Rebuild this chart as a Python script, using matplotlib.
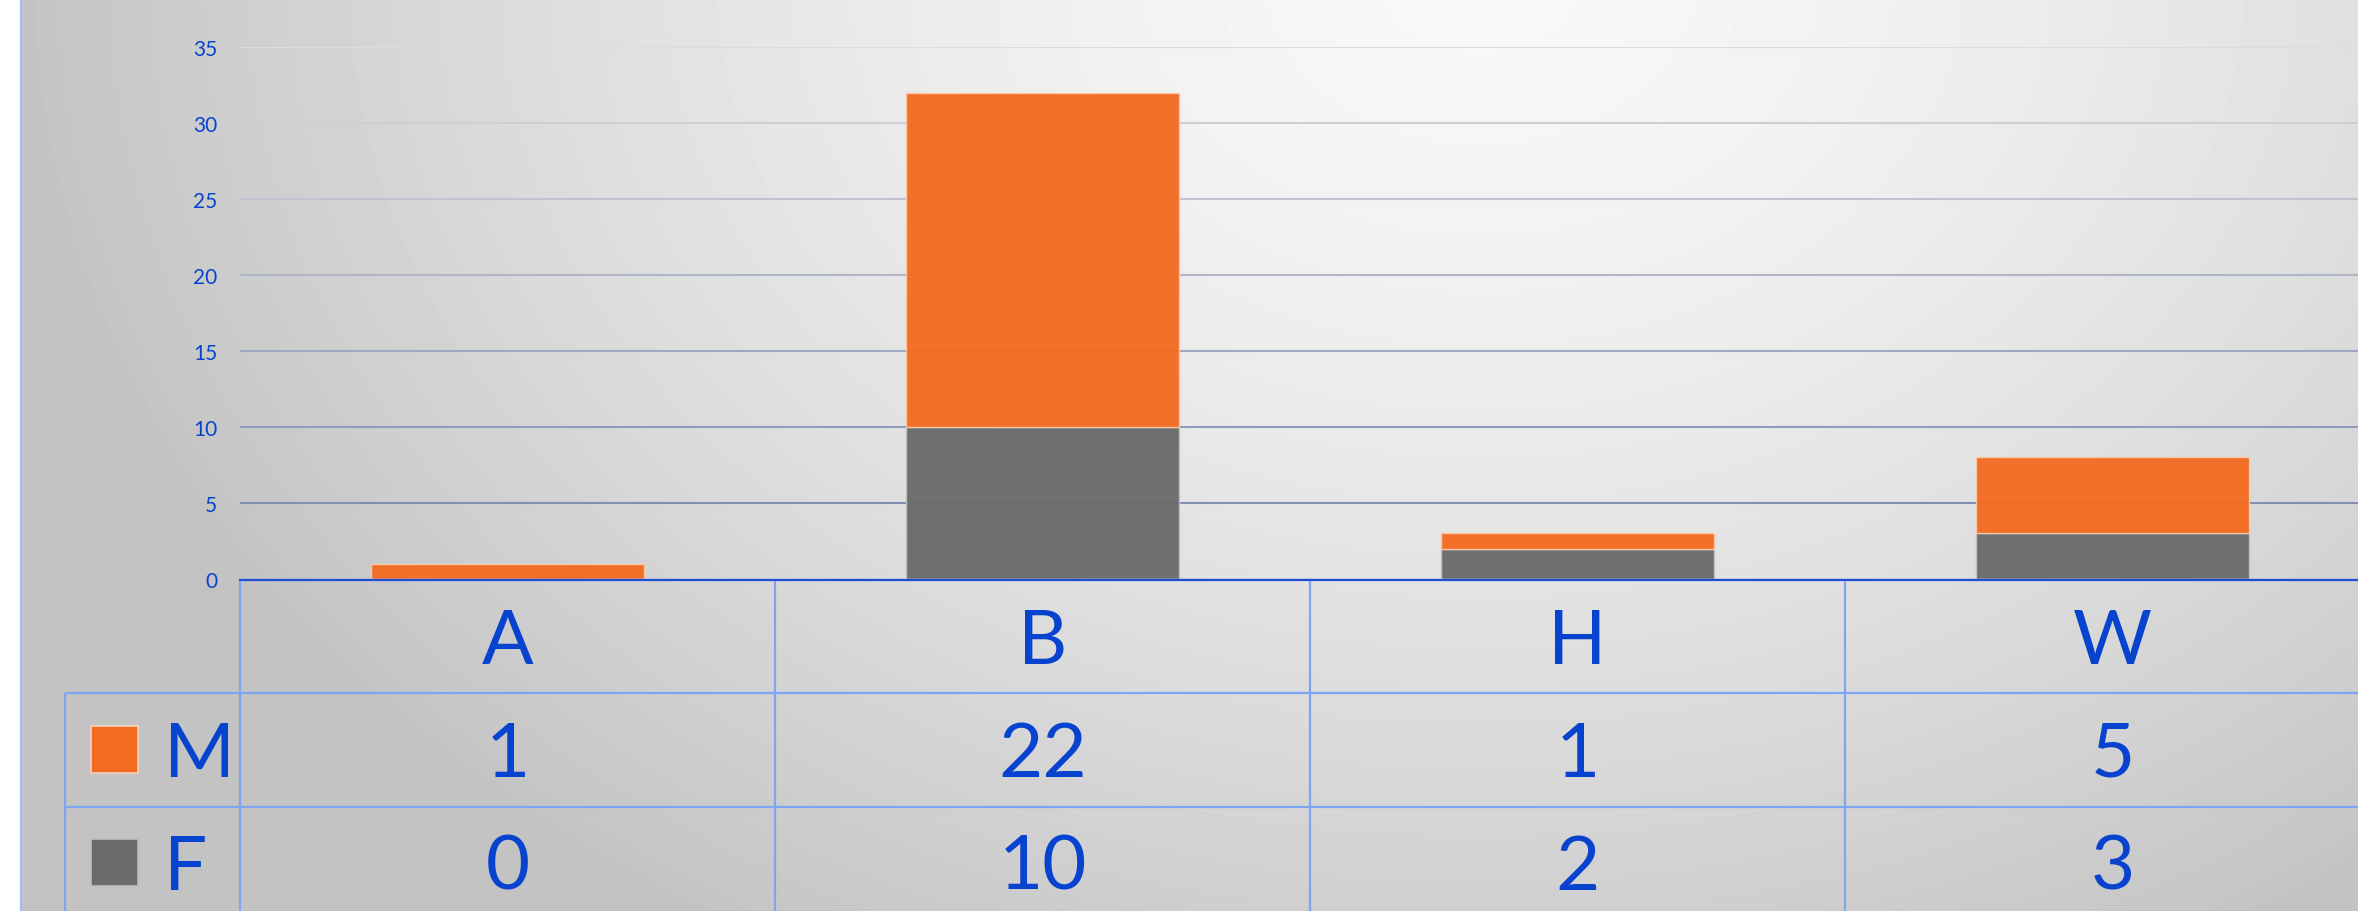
import numpy as np
import matplotlib
matplotlib.use("Agg")
import matplotlib.pyplot as plt
from matplotlib.patches import Rectangle
from matplotlib.transforms import blended_transform_factory
from matplotlib.colors import LinearSegmentedColormap

# ---- data ----
categories = ["A", "B", "H", "W"]
series_names = ["M", "F"]
male = [1, 22, 1, 5]
female = [0, 10, 2, 3]
yticks = [0, 5, 10, 15, 20, 25, 30, 35]

# ---- style ----
ORANGE = "#f36b21"
GREY = "#6b6b6b"
TEXT = "#0843cf"
TABLE_LINE = "#80a4f4"
FONT = "Lato"

W, H = 2358, 912
fig = plt.figure(figsize=(W / 100, H / 100), dpi=100)

# background: soft radial gradient, light near the top centre
bg = fig.add_axes([0, 0, 1, 1], zorder=0)
yy, xx = np.mgrid[0:H, 0:W]
r = np.sqrt(((xx - 1480) / 1450.0) ** 2 + ((yy + 20) / 1100.0) ** 2)
r = np.clip(r, 0, 1)
val = (248 - 52 * r ** 1.5) / 255.0
bg.imshow(val, cmap="gray", vmin=0, vmax=1, extent=[0, W, H, 0], aspect="auto",
          interpolation="bilinear")
bg.add_patch(Rectangle((0, 0), 20, H, color="white", zorder=2))
bg.plot([20.5, 20.5], [0, H], color="#a4bcfa", lw=1.6, zorder=3)
bg.set_xlim(0, W)
bg.set_ylim(H, 0)
bg.axis("off")

# main chart axes
ax = fig.add_axes([240 / W, (H - 580) / H, 2140 / W, 532 / H], zorder=2)
ax.set_facecolor("none")
ax.set_xlim(-0.5, 3.5)
ax.set_ylim(0, 35)
for s in ax.spines.values():
    s.set_visible(False)
ax.set_xticks([])
ax.set_yticks(yticks)
ax.set_yticklabels([str(t) for t in yticks], fontsize=15, color=TEXT, fontname=FONT)
ax.tick_params(axis="y", length=0, pad=16.5)

# gridlines fade from blue-grey (low) to pale grey (high)
grid_cmap = LinearSegmentedColormap.from_list("g", ["#8190b2", "#dcdcde"])
for t in yticks[1:]:
    ax.axhline(t, color=grid_cmap((t - 5) / 30.0), lw=1.5, zorder=1)

x = np.arange(len(categories))
width = 0.51
ax.bar(x, female, width, color=GREY, edgecolor="#c4c4c4", lw=1.0, alpha=0.96, zorder=2)
ax.bar(x, male, width, bottom=female, color=ORANGE, edgecolor="#fbc9a8", lw=1.0,
       alpha=0.96, zorder=2)

ax.axhline(0, color="#9db8f4", lw=1.0, zorder=3)
ax.axhline(-0.06, color="#1c4fd6", lw=1.6, zorder=3, clip_on=False)

# data table beneath the chart
tab = fig.add_axes([0, 0, 1, 1], zorder=3)
tab.set_facecolor("none")
tab.set_xlim(0, W)
tab.set_ylim(H, 0)
tab.axis("off")
trans = blended_transform_factory(ax.transData, tab.transData)

row_top = [580, 694, 808]
baselines = [664, 777, 890]

for k in range(len(categories) + 1):
    tab.plot([k - 0.5, k - 0.5], [582, H], color=TABLE_LINE, lw=1.6, transform=trans,
             solid_capstyle="butt")
for yline in row_top[1:]:
    tab.plot([65, W], [yline, yline], color=TABLE_LINE, lw=1.6, solid_capstyle="butt")
tab.plot([65, 65], [694, H], color=TABLE_LINE, lw=1.6, solid_capstyle="butt")

for i, cat in enumerate(categories):
    tab.text(i, baselines[0], cat, transform=trans, ha="center", va="baseline",
             fontsize=55, color=TEXT, fontname=FONT)
    tab.text(i, baselines[1], str(male[i]), transform=trans, ha="center", va="baseline",
             fontsize=55, color=TEXT, fontname=FONT)
    tab.text(i, baselines[2], str(female[i]), transform=trans, ha="center", va="baseline",
             fontsize=55, color=TEXT, fontname=FONT)

# legend keys in the row headers
for name, col, edge, base in [(series_names[0], ORANGE, "#f4d4c0", baselines[1]),
                              (series_names[1], GREY, "#bdbdbd", baselines[2])]:
    tab.add_patch(Rectangle((91, base - 50), 47, 47, facecolor=col, edgecolor=edge, lw=1.2))
    tab.text(164, base, name, ha="left", va="baseline", fontsize=55, color=TEXT,
             fontname=FONT)

fig.savefig("out.png", dpi=100)
